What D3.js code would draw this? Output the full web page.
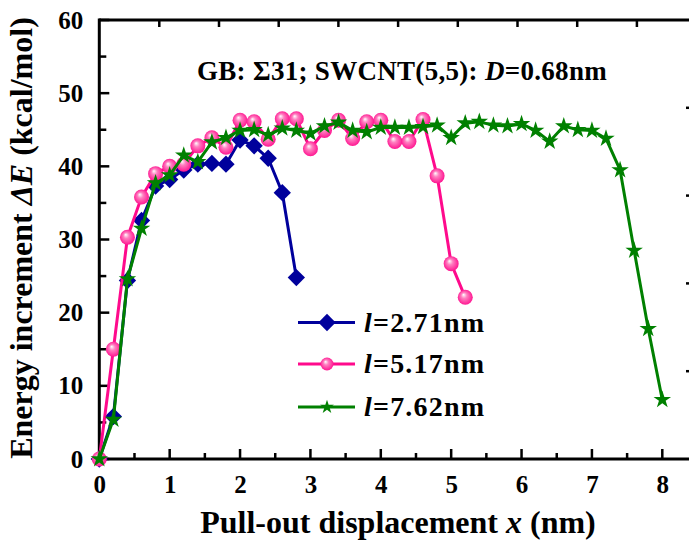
<!DOCTYPE html>
<html>
<head>
<meta charset="utf-8">
<script src="https://cdn.jsdelivr.net/npm/d3@7"></script>
<style>
  body { margin: 0; background: #fff; }
  svg text { font-family: "Liberation Serif", "Times New Roman", serif; font-weight: bold; }
</style>
</head>
<body>
<div id="plot"></div>
<script>
// pull-out displacement (nm)
var xGrid = [0, 0.2, 0.4, 0.6, 0.8, 1.0, 1.2, 1.4, 1.6, 1.8, 2.0, 2.2, 2.4, 2.6, 2.8, 3.0,
             3.2, 3.4, 3.6, 3.8, 4.0, 4.2, 4.4, 4.6, 4.8, 5.0, 5.2, 5.4, 5.6, 5.8, 6.0,
             6.2, 6.4, 6.6, 6.8, 7.0, 7.2, 7.4, 7.6, 7.8, 8.0];

// energy increment (kcal/mol)
var eL271 = [0, 5.8, 24.4, 32.6, 37.3, 38.2, 39.5, 40.3, 40.4, 40.3, 43.6, 42.8, 41.1, 36.4, 24.8];
var eL517 = [0, 15.0, 30.3, 35.8, 39.0, 40.0, 40.3, 42.8, 43.9, 42.6, 46.3, 46.1, 43.7, 46.5,
             46.5, 42.4, 44.9, 46.3, 43.8, 46.1, 46.3, 43.4, 43.4, 46.4, 38.7, 26.7, 22.1];
var eL762 = [0, 5.4, 24.6, 31.5, 37.7, 38.8, 41.5, 40.6, 43.3, 43.9, 44.9, 45.0, 44.3, 45.2,
             44.9, 44.5, 45.5, 46.0, 44.9, 44.7, 45.3, 45.3, 45.3, 45.4, 45.6, 43.9, 45.9,
             46.1, 45.6, 45.5, 45.8, 44.9, 43.4, 45.5, 45.0, 44.9, 43.8, 39.5, 28.5, 17.8, 8.1];

var seriesNames = ["2.71nm", "5.17nm", "7.62nm"];
var seriesColors = ["#00009c", "#ff0a8c", "#008000"];
var xTicks = [0, 1, 2, 3, 4, 5, 6, 7, 8];
var yTicks = [0, 10, 20, 30, 40, 50, 60];

var W = 689, H = 555;
var svg = d3.select("#plot").append("svg")
    .attr("width", W).attr("height", H);

var x = d3.scaleLinear().domain([0, 8]).range([99.3, 662.3]);
var y = d3.scaleLinear().domain([0, 60]).range([459, 20]);
var xRight = 692;

// gradient for the sphere markers
var defs = svg.append("defs");
var grad = defs.append("radialGradient").attr("id", "ball")
    .attr("cx", "50%").attr("cy", "50%").attr("r", "55%")
    .attr("fx", "38%").attr("fy", "32%");
grad.append("stop").attr("offset", "0%").attr("stop-color", "#ffffff");
grad.append("stop").attr("offset", "35%").attr("stop-color", "#ff7fc0");
grad.append("stop").attr("offset", "100%").attr("stop-color", "#ff0a8c");

// frame + axes
var axW = 3;
svg.append("line").attr("x1", x(0)).attr("x2", xRight).attr("y1", y(60)).attr("y2", y(60))
    .attr("stroke", "#000").attr("stroke-width", axW);

var xAxis = svg.append("g").attr("transform", `translate(0,${y(0)})`)
    .call(d3.axisBottom(x).tickValues(xTicks).tickSize(0).tickPadding(16).tickFormat(d3.format("d")));
xAxis.select(".domain").remove();
xAxis.selectAll("text").attr("font-size", 25).attr("fill", "#000");

var yAxis = svg.append("g").attr("transform", `translate(${x(0)},0)`)
    .call(d3.axisLeft(y).tickValues(yTicks).tickSize(0).tickPadding(16));
yAxis.select(".domain").remove();
yAxis.selectAll("text").attr("font-size", 25).attr("fill", "#000");

// inward ticks on bottom (major 1, minor 0.5) and left (major 10, minor 5)
var bt = svg.append("g");
d3.range(0, 8.01, 0.5).forEach(function(v) {
  var major = Math.abs(v - Math.round(v)) < 1e-6;
  bt.append("line").attr("x1", x(v)).attr("x2", x(v))
    .attr("y1", y(0)).attr("y2", y(0) - (major ? 10 : 6))
    .attr("stroke", "#000").attr("stroke-width", 2.5);
});
d3.range(0, 60.1, 5).forEach(function(v) {
  var major = v % 10 === 0;
  bt.append("line").attr("x1", x(0)).attr("x2", x(0) + (major ? 10 : 7))
    .attr("y1", y(v)).attr("y2", y(v))
    .attr("stroke", "#000").attr("stroke-width", 2.5);
});

// top and right axes use their own spacing
var xTop = d3.scaleLinear().domain([0, 10]).range([99.6, 696.6]);
d3.range(1, 10).forEach(function(v) {
  bt.append("line").attr("x1", xTop(v)).attr("x2", xTop(v))
    .attr("y1", y(60)).attr("y2", y(60) + 7)
    .attr("stroke", "#000").attr("stroke-width", 2.5);
});
var yRight = d3.scaleLinear().domain([0, 5]).range([459, 20]);
d3.range(1, 5).forEach(function(v) {
  bt.append("line").attr("x1", xRight).attr("x2", xRight - 6)
    .attr("y1", yRight(v)).attr("y2", yRight(v))
    .attr("stroke", "#000").attr("stroke-width", 2.5);
});

svg.append("line").attr("x1", x(0)).attr("x2", x(0)).attr("y1", y(60) - 1.5).attr("y2", y(0) + 1.5)
    .attr("stroke", "#000").attr("stroke-width", axW);
svg.append("line").attr("x1", x(0) - 1.5).attr("x2", xRight).attr("y1", y(0)).attr("y2", y(0))
    .attr("stroke", "#000").attr("stroke-width", axW);

// series
var series = [eL271, eL517, eL762].map(function(vals, i) {
  return { name: seriesNames[i], color: seriesColors[i],
           pts: vals.map(function(v, j) { return [xGrid[j], v]; }) };
});

var line = d3.line().x(d => x(d[0])).y(d => y(d[1]));

function drawMarker(g, idx, px, py, legend) {
  if (idx === 0) {
    g.append("path").attr("d", d3.symbol().type(d3.symbolSquare).size(150)())
      .attr("transform", `translate(${px},${py}) rotate(45)`)
      .attr("fill", seriesColors[0]);
  } else if (idx === 1) {
    g.append("circle").attr("cx", px).attr("cy", py).attr("r", legend ? 6.5 : 7.5)
      .attr("fill", "url(#ball)");
  } else {
    g.append("path").attr("d", d3.symbol().type(d3.symbolStar).size(legend ? 60 : 95)())
      .attr("transform", `translate(${px},${py})`)
      .attr("fill", seriesColors[2]);
  }
}

series.forEach(function(s, i) {
  var g = svg.append("g");
  g.append("path").datum(s.pts).attr("d", line)
    .attr("fill", "none").attr("stroke", s.color).attr("stroke-width", 3);
  s.pts.forEach(function(p) { drawMarker(g, i, x(p[0]), y(p[1]), false); });
});

// annotation
var ann = svg.append("text").attr("x", 197).attr("y", 80).attr("font-size", 27)
    .attr("letter-spacing", 0.3).attr("fill", "#000");
ann.append("tspan").text("GB: \u03A331; SWCNT(5,5): ");
ann.append("tspan").attr("font-style", "italic").text("D");
ann.append("tspan").text("=0.68nm");

// legend
var legY = [322.5, 364, 407];
series.forEach(function(s, i) {
  var g = svg.append("g");
  g.append("line").attr("x1", 298).attr("x2", 355).attr("y1", legY[i]).attr("y2", legY[i])
    .attr("stroke", s.color).attr("stroke-width", 3);
  drawMarker(g, i, 327, legY[i], true);
  var t = g.append("text").attr("x", 364).attr("y", legY[i] + 9).attr("font-size", 28)
    .attr("letter-spacing", 1.2).attr("fill", "#000");
  t.append("tspan").attr("font-style", "italic").text("l");
  t.append("tspan").text("=" + s.name);
});

// axis titles
svg.append("text").attr("x", 398).attr("y", 533).attr("text-anchor", "middle")
  .attr("font-size", 32).attr("fill", "#000")
  .call(function(t) {
    t.append("tspan").text("Pull-out displacement ");
    t.append("tspan").attr("font-style", "italic").text("x");
    t.append("tspan").text(" (nm)");
  });

svg.append("text").attr("transform", "translate(32,238) rotate(-90)").attr("text-anchor", "middle")
  .attr("font-size", 32).attr("fill", "#000")
  .call(function(t) {
    t.append("tspan").text("Energy increment ");
    t.append("tspan").attr("font-style", "italic").text("\u0394E");
    t.append("tspan").text(" (kcal/mol)");
  });
</script>
</body>
</html>
